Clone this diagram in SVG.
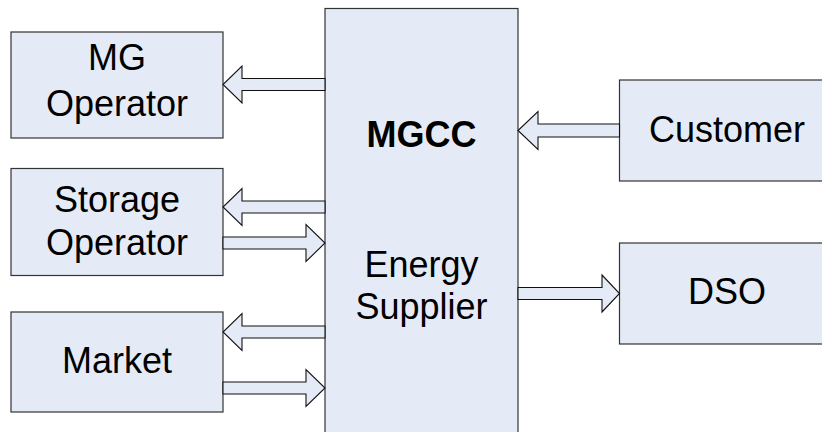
<svg xmlns="http://www.w3.org/2000/svg" width="822" height="432" viewBox="0 0 822 432">
<style>
.box{fill:#E5EBF6;stroke:#333;stroke-width:1.2}
.arr{fill:#E5EBF6;stroke:#111;stroke-width:1.1;stroke-linejoin:miter}
.t{font-family:"Liberation Sans",Arial,sans-serif;font-size:36px;fill:#000;text-anchor:middle}
.b{font-weight:bold}
</style>
<rect width="822" height="432" fill="#fff"/>
<g id="mgcc"><rect class="box" x="325" y="8.5" width="193" height="440"/>
<text class="t b" x="421.5" y="147">MGCC</text>
<text class="t" x="421.5" y="277">Energy</text>
<text class="t" x="421.5" y="319">Supplier</text></g>
<g id="mg-operator"><rect class="box" x="11" y="32" width="212" height="106"/>
<text class="t" x="117" y="70">MG</text>
<text class="t" x="117" y="116">Operator</text></g>
<g id="storage-operator"><rect class="box" x="11" y="168.5" width="212" height="107"/>
<text class="t" x="117" y="212">Storage</text>
<text class="t" x="117" y="255">Operator</text></g>
<g id="market"><rect class="box" x="11" y="312" width="212" height="100"/>
<text class="t" x="117" y="373">Market</text></g>
<g id="customer"><rect class="box" x="619.5" y="80" width="220" height="101"/>
<text class="t" x="727" y="142">Customer</text></g>
<g id="dso"><rect class="box" x="619.5" y="243" width="220" height="101"/>
<text class="t" x="727" y="304">DSO</text></g>
<g id="connectors">
<polygon class="arr" points="325,78.5 242,78.5 242,66 223,84.5 242,103 242,90.5 325,90.5"/>
<polygon class="arr" points="325,201 242,201 242,188.5 223,207 242,225.5 242,213 325,213"/>
<polygon class="arr" points="223,237 306,237 306,224.5 325,243 306,261.5 306,249 223,249"/>
<polygon class="arr" points="325,326 242,326 242,313.5 223,332 242,350.5 242,338 325,338"/>
<polygon class="arr" points="223,382 306,382 306,369.5 325,388 306,406.5 306,394 223,394"/>
<polygon class="arr" points="619.5,124 538,124 538,111.5 518,130.5 538,149.5 538,137 619.5,137"/>
<polygon class="arr" points="518,287.5 602,287.5 602,275 619.5,293.5 602,312 602,299.5 518,299.5"/>
</g>
</svg>
